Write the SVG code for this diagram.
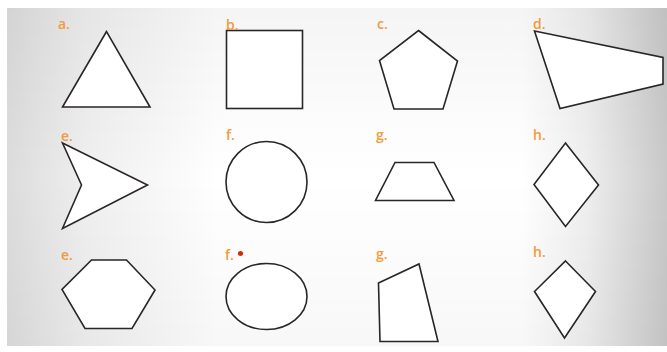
<svg xmlns="http://www.w3.org/2000/svg" width="667" height="352" viewBox="0 0 667 352">
  <defs>
    <linearGradient id="bg" x1="0" y1="0" x2="1" y2="0">
      <stop offset="0" stop-color="#dcdcdc"/>
      <stop offset="0.12" stop-color="#efefef"/>
      <stop offset="0.32" stop-color="#ffffff"/>
      <stop offset="0.78" stop-color="#ffffff"/>
      <stop offset="0.88" stop-color="#eeeeee"/>
      <stop offset="1" stop-color="#c8c8c8"/>
    </linearGradient>
    <linearGradient id="vshade" x1="0" y1="0" x2="0" y2="1">
      <stop offset="0" stop-color="#000" stop-opacity="0.04"/>
      <stop offset="0.5" stop-color="#000" stop-opacity="0"/>
      <stop offset="1" stop-color="#000" stop-opacity="0.03"/>
    </linearGradient>
  </defs>
  <style>
    .s { fill: #ffffff; stroke: #2a2527; stroke-width: 1.6; stroke-linejoin: miter; }
    .lbl { font-family: "Open Sans", "Liberation Sans", sans-serif; font-size: 14px; font-weight: 600; fill: #f39a3a; }
  </style>
  <rect x="0" y="0" width="667" height="352" fill="#ffffff"/>
  <rect x="7" y="8" width="660" height="338" fill="url(#bg)"/>
  <rect x="7" y="8" width="660" height="338" fill="url(#vshade)"/>

  <g id="connectors"/>

  <g id="a1">
    <polygon class="s" points="106.5,31.5 62.5,107 150,107"/>
    <text class="lbl" x="58" y="29">a.</text>
  </g>
  <g id="b1">
    <rect class="s" x="226.5" y="30.5" width="76" height="78"/>
    <text class="lbl" x="226" y="30">b.</text>
  </g>
  <g id="c1">
    <polygon class="s" points="418.5,30.5 457.5,61 443,109 394,109 379.5,60.5"/>
    <text class="lbl" x="377" y="29">c.</text>
  </g>
  <g id="d1">
    <polygon class="s" points="534.5,31 663,57.5 663,84 560,108.5"/>
    <text class="lbl" x="533" y="28.5">d.</text>
  </g>

  <g id="e1">
    <polygon class="s" points="62.5,143 147.5,185 62.5,228.5 81.5,185"/>
    <text class="lbl" x="61" y="140.5">e.</text>
  </g>
  <g id="f1">
    <ellipse class="s" cx="266.5" cy="182" rx="40.5" ry="40.5"/>
    <text class="lbl" x="226" y="140">f.</text>
  </g>
  <g id="g1">
    <polygon class="s" points="395,162.5 434,162.5 454,200.5 375.5,200.5"/>
    <text class="lbl" x="376" y="140">g.</text>
  </g>
  <g id="h1">
    <polygon class="s" points="565.5,143 598.5,185 565.5,226.5 534,184.5"/>
    <text class="lbl" x="533" y="140">h.</text>
  </g>

  <g id="e2">
    <polygon class="s" points="91.5,260 126.5,260 155,290 132,328.5 85,328.5 62,289.5"/>
    <text class="lbl" x="61" y="259.5">e.</text>
  </g>
  <g id="f2">
    <ellipse class="s" cx="266.5" cy="296.5" rx="40.5" ry="33"/>
    <text class="lbl" x="225" y="259.5">f.</text>
    <circle cx="240.5" cy="253.5" r="2.6" fill="#d4290a"/>
  </g>
  <g id="g2">
    <polygon class="s" points="378.5,283 419,264 438,341.5 380,341.5"/>
    <text class="lbl" x="376" y="259">g.</text>
  </g>
  <g id="h2">
    <polygon class="s" points="565.5,261 595.5,291.5 564.5,338 534.5,291.5"/>
    <text class="lbl" x="533" y="257">h.</text>
  </g>
</svg>
